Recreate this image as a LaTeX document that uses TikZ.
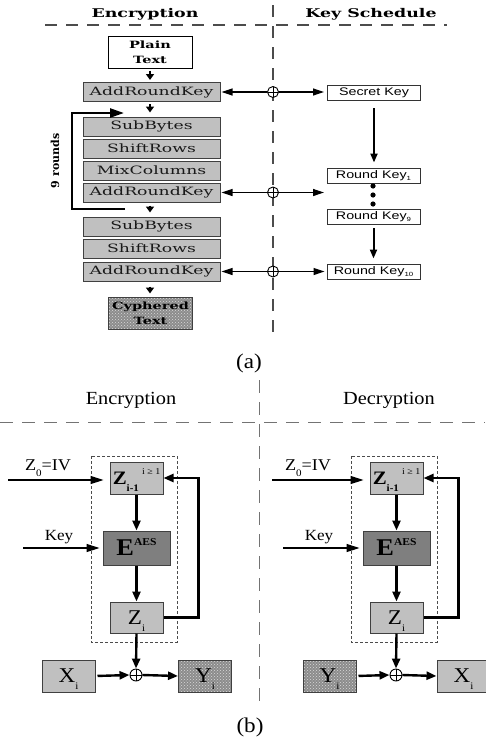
\documentclass[tikz,border=0pt]{standalone}
\usepackage{fontspec}
\setmainfont[FakeStretch=1.1]{Liberation Serif}
\newfontfamily\hdfont[FakeStretch=1.45]{DejaVu Serif}
\newfontfamily\boxfont[FakeStretch=1.5]{DejaVu Serif}
\newfontfamily\rotfont{DejaVu Serif}
\newfontfamily\ksfont[FakeStretch=1.3]{Liberation Sans}
\usetikzlibrary{arrows.meta,patterns}
\definecolor{lgray}{HTML}{C0C0C0}
\definecolor{dgray}{HTML}{7F7F7F}
\definecolor{edgec}{HTML}{404040}
\tikzset{
  fs/.style={font=\fontsize{#1}{#1}\selectfont},
  stepbox/.style={draw=edgec, line width=1pt, fill=lgray, minimum width=137pt, minimum height=19pt, inner sep=0pt, text=black!90, font=\boxfont\fontsize{11.5}{11.5}\selectfont},
  txtbox/.style={draw=black, line width=1pt, minimum width=84pt, minimum height=32pt, inner sep=0pt, align=center, font=\hdfont\bfseries\fontsize{10}{15}\selectfont},
  texture/.style={preaction={fill=black!45}, pattern=crosshatch dots, pattern color=black!15},
  keybox/.style={draw=black!80, line width=1pt, fill=white, minimum width=93pt, minimum height=15pt, inner sep=0pt, font=\ksfont\fontsize{11}{11}\selectfont},
  xor/.style={circle, draw=black, line width=0.9pt, fill=white, minimum size=#1, inner sep=0pt,
    path picture={\draw[line width=0.8pt] (path picture bounding box.north) -- (path picture bounding box.south) (path picture bounding box.west) -- (path picture bounding box.east);}},
  downarr/.style={line width=1.8pt, -{Triangle[width=8pt,length=6pt]}},
  harr/.style={line width=1.2pt, -{Triangle[width=7pt,length=11pt]}},
  loopar/.style={line width=2.4pt, -{Triangle[width=9pt,length=14pt]}},
  kdown/.style={line width=2pt, -{Triangle[width=7pt,length=9pt]}},
  sepa/.style={draw=black!70, line width=1.3pt, dash pattern=on 12pt off 9pt},
  sepb/.style={draw=black!55, line width=1pt, dash pattern=on 13pt off 9pt},
  bbox/.style={draw=edgec, line width=1pt, fill=lgray, minimum width=53pt, minimum height=32pt, inner sep=0pt},
  ebox/.style={draw=edgec, line width=1pt, fill=dgray, minimum width=67pt, minimum height=34pt, inner sep=0pt},
  tbox/.style={draw=edgec, line width=1pt, texture, minimum width=53pt, minimum height=32pt, inner sep=0pt},
  thickarr/.style={line width=2.4pt, -{Triangle[width=8pt,length=10pt]}},
  thinarr/.style={line width=1.4pt, -{Triangle[width=8pt,length=13pt]}},
  framebox/.style={draw=black!70, line width=0.8pt, dash pattern=on 3pt off 2pt},
}
\newcommand{\sbs}[2]{\smash{\raisebox{#1}{\fontsize{10}{10}\selectfont #2}}}
\begin{document}
\begin{tikzpicture}[x=1pt,y=-1pt]
\useasboundingbox (0,0) rectangle (485,744);
% ---------------- (a) ----------------
\draw[sepa] (45,25) -- (447,25);
\draw[sepa] (273,5) -- (273,333);
\node[font=\hdfont\bfseries\fontsize{12}{12}\selectfont] (hencA) at (145,14) {Encryption};
\node[font=\hdfont\bfseries\fontsize{12}{12}\selectfont] (hks) at (371,14) {Key Schedule};

\node[txtbox, fill=white] (plain) at (150,52) {Plain\\Text};
\node[stepbox] (ark0) at (151.5,92) {AddRoundKey};
\node[stepbox] (sb1) at (151.5,126.5) {SubBytes};
\node[stepbox] (sr1) at (151.5,148.5) {ShiftRows};
\node[stepbox] (mc) at (151.5,170.5) {MixColumns};
\node[stepbox] (ark1) at (151.5,192.5) {AddRoundKey};
\node[stepbox] (sb2) at (151.5,226.5) {SubBytes};
\node[stepbox] (sr2) at (151.5,248.5) {ShiftRows};
\node[stepbox] (ark2) at (151.5,271.5) {AddRoundKey};
\node[txtbox, texture, draw=edgec] (cyph) at (150.5,313) {Cyphered\\Text};

\draw[downarr, shorten <=2pt, shorten >=2pt] (plain.south) -- (plain.south |- ark0.north);
\draw[downarr, shorten <=2pt, shorten >=4pt] (ark0.south -| plain.south) -- (plain.south |- sb1.north);
\draw[downarr, shorten <=3pt, shorten >=4pt] (ark1.south -| plain.south) -- (plain.south |- sb2.north);
\draw[downarr, shorten <=5pt, shorten >=3pt] (ark2.south -| plain.south) -- (plain.south |- cyph.north);

\coordinate (lb) at (125,209);
\coordinate (lt) at (124,113);
\draw[loopar] (lb) -- ++(-53,0) |- (lt);
\node[rotate=90, font=\rotfont\bfseries\fontsize{11}{11}\selectfont] (nine) at (55,161) {9 rounds};

\node[keybox] (sk) at (374,93) {Secret Key};
\node[keybox] (rk1) at (373.5,175.5) {Round Key\smash{\raisebox{-2pt}{\fontsize{6}{6}\selectfont 1}}};
\node[keybox] (rk9) at (373.5,217) {Round Key\smash{\raisebox{-2pt}{\fontsize{6}{6}\selectfont 9}}};
\node[keybox] (rk10) at (373.5,271.5) {Round Key\smash{\raisebox{-2pt}{\fontsize{6}{6}\selectfont 10}}};
\fill (373,186) circle (2.6pt) (373,195) circle (2.6pt) (373,204) circle (2.6pt);
\draw[kdown, shorten <=7pt, shorten >=5pt] (sk.south) -- (sk.south |- rk1.north);
\draw[kdown, shorten <=3pt, shorten >=5pt] (rk9.south) -- (rk10.north);

\coordinate (kmid) at (324,192.5);
\node[xor=11pt] (x0) at (273,92) {};
\node[xor=11pt] (x1) at (273,192.5) {};
\node[xor=11pt] (x2) at (273,271.5) {};
\draw[harr, shorten >=1pt] (x0) -- (ark0.east);
\draw[harr, shorten >=3pt] (x0) -- (x0 -| sk.west);
\draw[harr, shorten >=1pt] (x1) -- (ark1.east);
\draw[harr] (x1) -- (kmid);
\draw[harr, shorten >=1pt] (x2) -- (ark2.east);
\draw[harr, shorten >=2pt] (x2) -- (rk10.west);

\node[fs=21] (capa) at (249,363) {(a)};

% ---------------- (b) ----------------
\draw[sepb] (0,422) -- (485,422);
\draw[sepb] (259,380) -- (259,705);
\node[fs=18.5] (hencB) at (131,400) {Encryption};
\node[fs=18.5] (hdecB) at (389,400) {Decryption};

% left: encryption
\draw[framebox] (91,456) rectangle (177,642);
\node[bbox] (zmL) at (136.5,478) {\fontsize{19}{19}\selectfont\bfseries Z\sbs{-7pt}{i-1}\,\smash{\raisebox{10pt}{\fontsize{9}{9}\selectfont\mdseries i ≥ 1}}};
\node[ebox] (eL) at (136.5,548) {\fontsize{24}{24}\selectfont\bfseries E\smash{\raisebox{10pt}{\fontsize{10.5}{10.5}\selectfont AES}}};
\node[bbox, minimum height=31pt] (ziL) at (136.5,617.5) {\fontsize{21}{21}\selectfont Z\sbs{-7pt}{i}};
\node[xor=12pt] (xoL) at (136,675) {};
\node[bbox] (xL) at (68.5,676) {\fontsize{21}{21}\selectfont X\sbs{-7pt}{i}};
\node[tbox] (yL) at (205,676) {\fontsize{21}{21}\selectfont Y\sbs{-7pt}{i}};
\node[fs=16.5] (ivL) at (48,465) {Z\sbs{-6pt}{0}=IV};
\node[fs=15.5] (keyL) at (59,537) {Key};
\coordinate (ivsL) at (8,480);
\coordinate (ksL) at (23,548);
\draw[thinarr, shorten >=6pt] (ivsL) -- (ivsL -| zmL.west);
\draw[thinarr, shorten >=3pt] (ksL) -- (ksL -| eL.west);
\draw[thickarr] (zmL.south) -- (eL.north);
\draw[thickarr] (eL.south) -- (ziL.north);
\draw[thickarr] (ziL.south) -- (xoL.north);
\draw[thickarr, shorten <=2pt] (xL.east) -- (xoL.west);
\draw[thickarr] (xoL.east) -- (yL.west);
\draw[thickarr] (ziL.east) -- ++(35,0) |- (zmL.east);

% right: decryption
\draw[framebox] (351,456) rectangle (437,642);
\node[bbox] (zmR) at (396.5,478) {\fontsize{19}{19}\selectfont\bfseries Z\sbs{-7pt}{i-1}\,\smash{\raisebox{10pt}{\fontsize{9}{9}\selectfont\mdseries i ≥ 1}}};
\node[ebox] (eR) at (396.5,548) {\fontsize{24}{24}\selectfont\bfseries E\smash{\raisebox{10pt}{\fontsize{10.5}{10.5}\selectfont AES}}};
\node[bbox, minimum height=31pt] (ziR) at (396.5,617.5) {\fontsize{21}{21}\selectfont Z\sbs{-7pt}{i}};
\node[xor=12pt] (xoR) at (396,675) {};
\node[tbox] (yR) at (329.5,676) {\fontsize{21}{21}\selectfont Y\sbs{-7pt}{i}};
\node[bbox] (xR) at (463.5,676) {\fontsize{21}{21}\selectfont X\sbs{-7pt}{i}};
\node[fs=16.5] (ivR) at (308,465) {Z\sbs{-6pt}{0}=IV};
\node[fs=15.5] (keyR) at (319,537) {Key};
\coordinate (ivsR) at (272,480);
\coordinate (ksR) at (283,548);
\draw[thinarr, shorten >=6pt] (ivsR) -- (ivsR -| zmR.west);
\draw[thinarr, shorten >=3pt] (ksR) -- (ksR -| eR.west);
\draw[thickarr] (zmR.south) -- (eR.north);
\draw[thickarr] (eR.south) -- (ziR.north);
\draw[thickarr] (ziR.south) -- (xoR.north);
\draw[thickarr, shorten <=2pt] (yR.east) -- (xoR.west);
\draw[thickarr] (xoR.east) -- (xR.west);
\draw[thickarr] (ziR.east) -- ++(35,0) |- (zmR.east);

\node[fs=21] (capb) at (250,727) {(b)};
\end{tikzpicture}
\end{document}
